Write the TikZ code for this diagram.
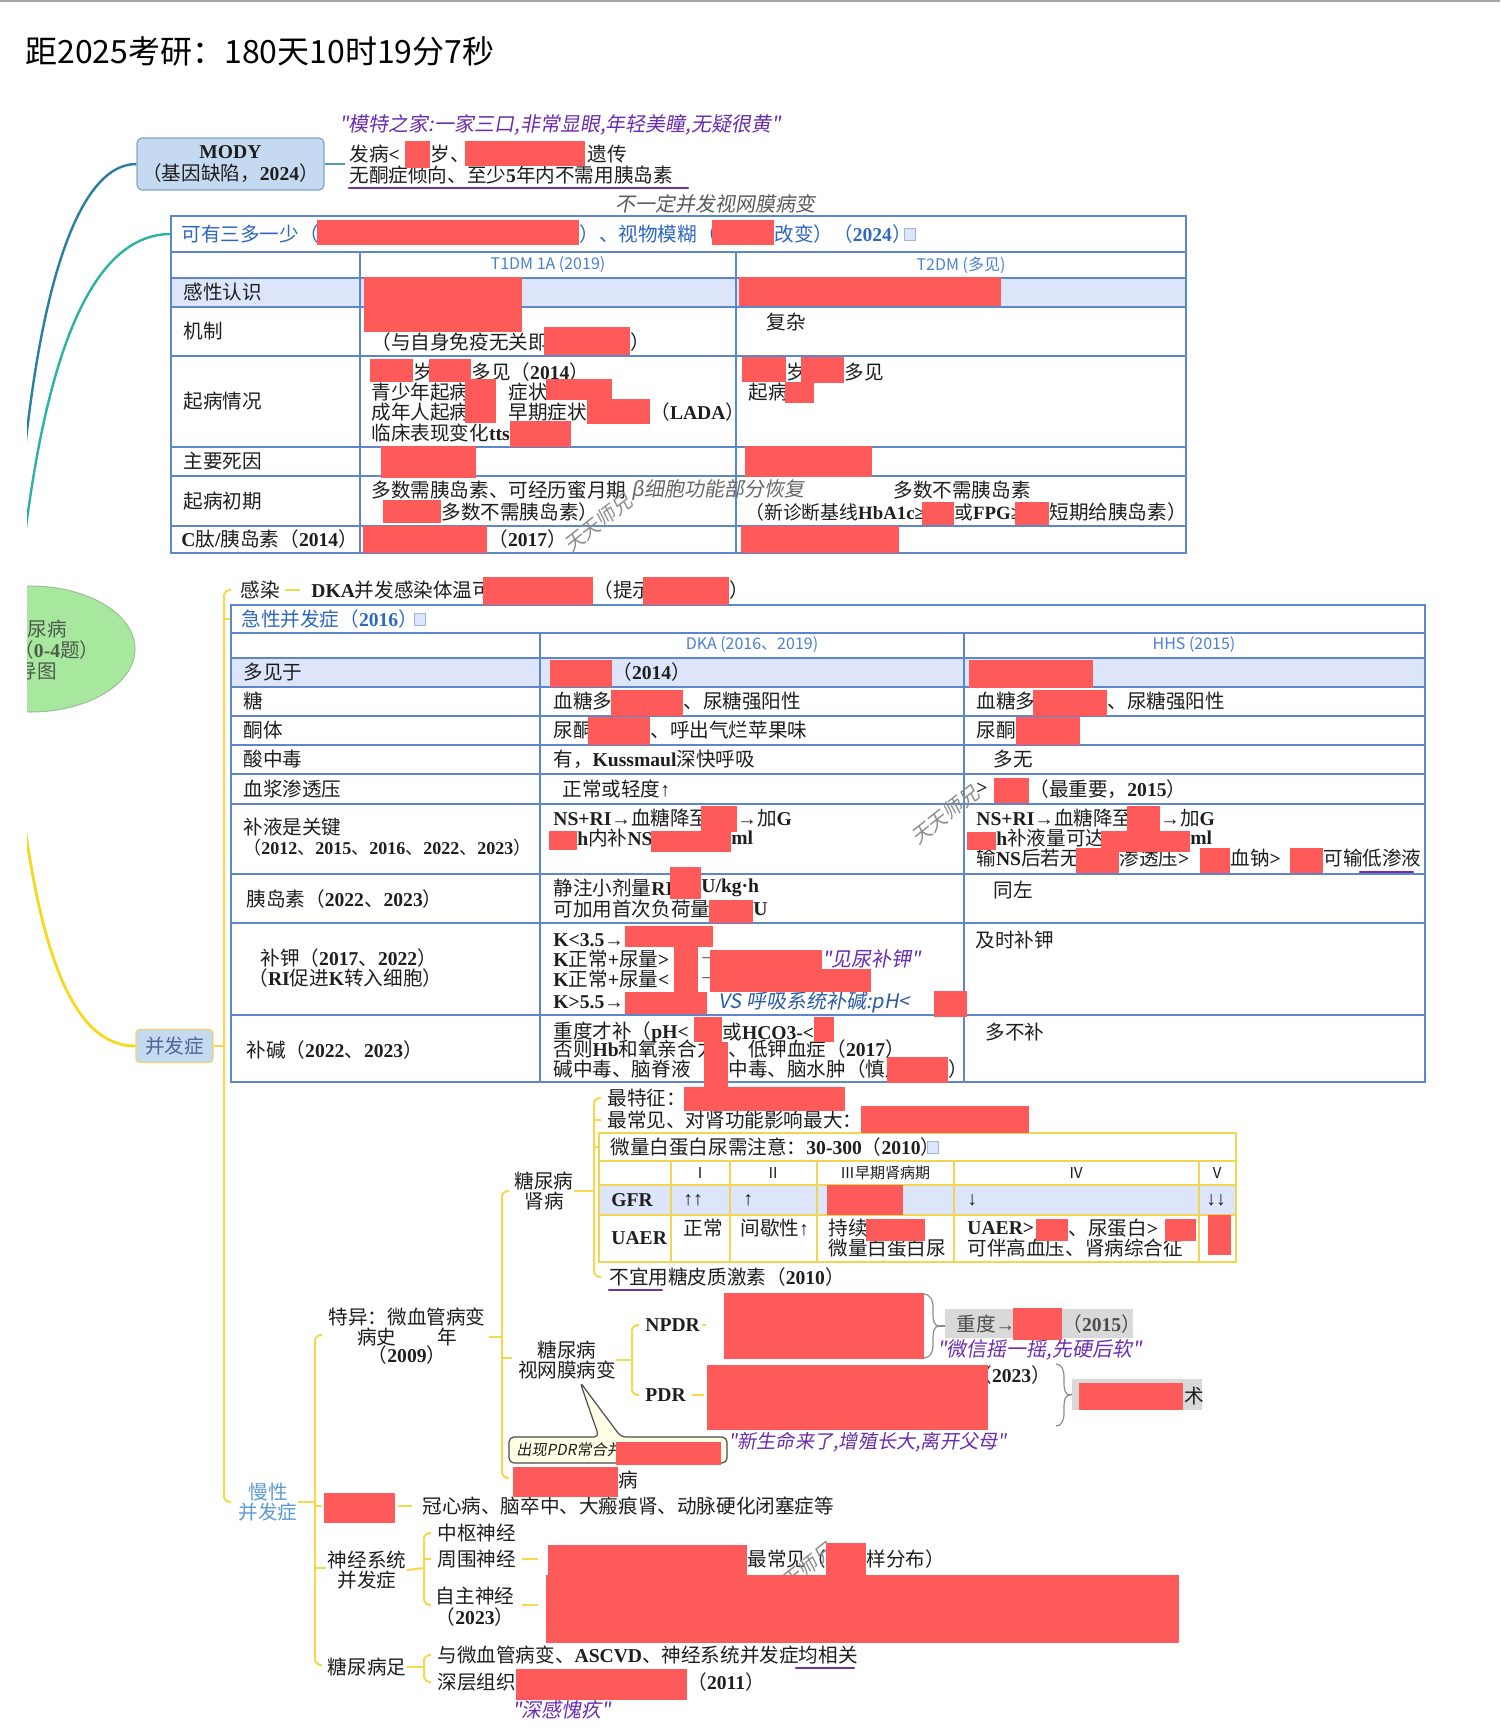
\documentclass[tikz,border=0pt]{standalone}
\usepackage{fontspec}
\usetikzlibrary{shapes.geometric}
\setmainfont{Noto Sans CJK SC}
\newfontfamily\cjkfont{Noto Sans CJK SC}
\newfontfamily\latfont{Liberation Serif Bold}
\newfontfamily\handfont[FakeSlant=0.18]{Noto Sans CJK SC}
\newcommand\cjkcur{\cjkfont}
\newcommand\latcur{\latfont}
\newcommand\sansmode{\let\latcur\cjkfont}
\newcommand\handmode{\handfont\let\latcur\handfont\let\cjkcur\handfont}
\newcommand\body{\fontsize{9.8}{10.4}\selectfont}
\XeTeXinterchartokenstate=1
\newXeTeXintercharclass\cjkclass
\newcount\cjkcnt
\newcommand\setcjkrange[2]{\cjkcnt=#1 \loop\XeTeXcharclass\cjkcnt=\cjkclass \ifnum\cjkcnt<#2 \advance\cjkcnt by 1 \repeat}
\setcjkrange{"2150}{"218F}
\setcjkrange{"2E80}{"9FFF}
\setcjkrange{"FF00}{"FFEF}
\XeTeXinterchartoks 0 \cjkclass = {\cjkcur}
\XeTeXinterchartoks 4095 \cjkclass = {\cjkcur}
\XeTeXinterchartoks \cjkclass 0 = {\latcur}
\XeTeXinterchartoks 4095 0 = {\latcur}
\definecolor{hlred}{HTML}{FF5A5A}
\definecolor{tblblue}{HTML}{5E86CC}
\definecolor{rowfill}{HTML}{DCE5FA}
\definecolor{hdrblue}{HTML}{2E67C2}
\definecolor{colhblue}{HTML}{4A80D4}
\definecolor{modyfill}{HTML}{C5D9F1}
\definecolor{modyline}{HTML}{7FA7D3}
\definecolor{ylw}{HTML}{F5D84E}
\definecolor{ytbl}{HTML}{F2D552}
\definecolor{hwpurple}{HTML}{6A2CB0}
\definecolor{ulpurple}{HTML}{7030A0}
\definecolor{hwblue}{HTML}{2A5BA8}
\definecolor{mapgreen}{HTML}{A8E89E}
\definecolor{mapline}{HTML}{9BBF95}
\definecolor{rootink}{HTML}{4B5B4B}
\definecolor{tealA}{HTML}{2A7FA0}
\definecolor{tealB}{HTML}{2BB3A0}
\definecolor{curveY}{HTML}{F8D81E}
\definecolor{greybox}{HTML}{D9D9D9}
\definecolor{inkc}{HTML}{1E1E1E}
\definecolor{mxblue}{HTML}{5B9BD5}
\definecolor{bfzline}{HTML}{EED56A}
\definecolor{bfzink}{HTML}{4D6694}
\begin{document}
\begin{tikzpicture}[x=0.5pt,y=-0.5pt,
  every node/.style={inner sep=0pt, text=inkc},
  txt/.style={anchor=west, font=\body},
  mid/.style={anchor=center, font=\body, align=center},
  colh/.style={anchor=center, font={\fontsize{8}{9}\selectfont\sansmode}, text=colhblue},
  hw/.style={anchor=west, font={\fontsize{10}{11}\selectfont\handmode}, text=hwpurple},
  wm/.style={font={\fontsize{10}{11}\selectfont\handmode}, text=black!45, rotate=38},
  tline/.style={draw=tblblue, line width=0.6pt},
  yline/.style={draw=ytbl, line width=0.7pt},
  ybr/.style={draw=ylw, line width=1pt, rounded corners=3pt},
  gbr/.style={draw=black!45, line width=0.6pt},
  uline/.style={draw=ulpurple, line width=1.1pt, line cap=round},
  redout/.style={fill=hlred},
  icon/.style={draw=tblblue!60, fill=rowfill, line width=0.4pt}]
\fill[white] (0,0) rectangle (1500,1730);
\useasboundingbox (0,0) rectangle (1500,1730);
\draw[black!35, line width=1pt] (0,1) -- (1500,1);
\node[anchor=west, font={\fontsize{16}{16}\selectfont\sansmode}, text=black] (title) at (25,51) {距2025考研：180天10时19分7秒};

\node[draw=modyline, fill=modyfill, rounded corners=2.5pt, line width=0.6pt, minimum width=93.5pt, minimum height=26pt, align=center, font={\fontsize{9.8}{11}\selectfont}] (mody) at (230.5,164) {MODY\\（基因缺陷，2024）};
\draw[tealA!80, line width=0.8pt] (mody.east) -- ++(20,0);
\node[hw] (modyq) at (339,125) {"模特之家:一家三口,非常显眼,年轻美瞳,无疑很黄"};
\node[txt] (m1) at (349,154) {发病<};
\node[txt] (m2) at (430,154) {岁、};
\node[txt] (m3) at (587,154) {遗传};
\node[txt] (m4) at (349,175) {无酮症倾向、至少5年内不需用胰岛素};
\draw[uline] (349,188) -- (688,188);
\node[hw, text=black!65] (retn) at (615,204) {不一定并发视网膜病变};

\fill[rowfill] (171,278) rectangle (1186,307);
\draw[tline] (171,216) rectangle (1186,553);
\foreach \y in {252,278,307,356,447,476,526} \draw[tline] (171,\y) -- (1186,\y);
\foreach \x in {360,736} \draw[tline] (\x,252) -- (\x,553);
\node[txt, text=hdrblue] (hdrA) at (181,234) {可有三多一少（};
\node[txt, text=hdrblue] (hdrA2) at (579,234) {）、视物模糊（};
\node[txt, text=hdrblue] (hdrA3) at (774,234) {改变）（2024）};
\draw[icon] (904,228) rectangle (915,240);
\node[colh] (t1dm) at (548,265) {T1DM 1A (2019)};
\node[colh] (t2dm) at (961,265) {T2DM (多见)};
\node[txt] (ra1) at (183,292) {感性认识};
\node[txt] (ra2) at (183,331) {机制};
\node[txt] (ra3) at (183,401) {起病情况};
\node[txt] (ra4) at (183,461) {主要死因};
\node[txt] (ra5) at (183,501) {起病初期};
\node[txt] (ra6) at (181,539) {C肽/胰岛素（2014）};
\node[txt] (a21) at (371,342) {（与自身免疫无关即};
\node[txt] (a22) at (630,342) {）};
\node[txt] (b21) at (766,322) {复杂};
\node[txt] (a31) at (413,372) {岁};
\node[txt] (a32) at (471,372) {多见（2014）};
\node[txt] (a33) at (371,392) {青少年起病};
\node[txt] (a34) at (508,392) {症状};
\node[txt] (a35) at (371,412) {成年人起病};
\node[txt] (a36) at (508,412) {早期症状};
\node[txt] (a37) at (650,412) {（LADA）};
\node[txt] (a38) at (371,433) {临床表现变化tts};
\node[txt] (b31) at (786,372) {岁};
\node[txt] (b32) at (844,372) {多见};
\node[txt] (b33) at (748,392) {起病};
\node[txt] (a51) at (371,490) {多数需胰岛素、可经历蜜月期};
\node[txt] (a52) at (371,512) {（};
\node[txt] (a53) at (441,512) {多数不需胰岛素）};
\node[hw, text=black!60] (beta) at (631,490) {β细胞功能部分恢复};
\node[txt] (b51) at (893,490) {多数不需胰岛素};
\node[txt, font={\fontsize{9.4}{10}\selectfont}] (b52) at (745,512) {（新诊断基线HbA1c≥};
\node[txt, font={\fontsize{9.4}{10}\selectfont}] (b53) at (954,512) {或FPG≥};
\node[txt] (b54) at (1049,512) {短期给胰岛素）};
\node[txt] (a61) at (488,539) {（2017）};
\node[wm] (wm1) at (598,523) {天天师兄};

\node[draw=bfzline, fill=modyfill, rounded corners=2pt, line width=0.6pt, minimum width=38.5pt, minimum height=16.5pt, font=\body, text=bfzink] (bfz) at (174.5,1046) {并发症};
\draw[ybr] (bfz.east) -- (224,1046);
\draw[ybr] (231,590) -- (224,590) -- (224,1502) -- (231,1502);
\draw[ybr] (224,619) -- (231,619);
\node[txt] (gr) at (240,590) {感染};
\node[txt] (dki) at (311,590) {DKA并发感染体温可};
\draw[ybr] ([xshift=2.5pt]gr.east) -- ([xshift=-5.5pt]dki.west);
\node[txt] (dki2) at (593,590) {（提示};
\node[txt] (dki3) at (729,590) {）};

\fill[rowfill] (231,658) rectangle (1425,687);
\draw[tline] (231,605) rectangle (1425,1082);
\foreach \y in {633,658,687,716,745,774,804,874,923,1015} \draw[tline] (231,\y) -- (1425,\y);
\foreach \x in {540,964} \draw[tline] (\x,633) -- (\x,1082);
\node[txt, text=hdrblue] (hdrB) at (241,619) {急性并发症（2016）};
\draw[icon] (414,613) rectangle (425,625);
\node[colh] (dka) at (752,645) {DKA (2016、2019)};
\node[colh] (hhs) at (1194,645) {HHS (2015)};
\node[txt] (c1) at (243,672) {多见于};
\node[txt] (c2) at (243,701) {糖};
\node[txt] (c3) at (243,730) {酮体};
\node[txt] (c4) at (243,759) {酸中毒};
\node[txt] (c5) at (243,789) {血浆渗透压};
\node[txt] (c6) at (243,827) {补液是关键};
\node[txt, font={\fontsize{9}{10}\selectfont}] (c6b) at (243,848) {（2012、2015、2016、2022、2023）};
\node[txt] (c7) at (246,899) {胰岛素（2022、2023）};
\node[txt] (c8) at (260,958) {补钾（2017、2022）};
\node[txt] (c8b) at (248,978) {（RI促进K转入细胞）};
\node[txt] (c9) at (246,1050) {补碱（2022、2023）};
\node[txt] (d1) at (612,672) {（2014）};
\node[txt] (d2) at (553,701) {血糖多};
\node[txt] (d2b) at (683,701) {、尿糖强阳性};
\node[txt] (e2) at (976,701) {血糖多};
\node[txt] (e2b) at (1107,701) {、尿糖强阳性};
\node[txt] (d3) at (553,730) {尿酮};
\node[txt] (d3b) at (650,730) {、呼出气烂苹果味};
\node[txt] (e3) at (976,730) {尿酮};
\node[txt] (d4) at (553,759) {有，Kussmaul深快呼吸};
\node[txt] (e4) at (993,759) {多无};
\node[txt] (d5) at (562,789) {正常或轻度↑};
\node[txt] (e5) at (976,789) {>};
\node[txt] (e5b) at (1029,789) {（最重要，2015）};
\node[txt] (d6) at (553,818) {NS+RI→血糖降至};
\node[txt] (d6b) at (737,818) {→加G};
\node[txt] (d6c) at (577,838) {h内补NS};
\node[txt] (d6d) at (731,838) {ml};
\node[txt] (e6) at (976,818) {NS+RI→血糖降至};
\node[txt] (e6b) at (1160,818) {→加G};
\node[txt] (e6c) at (996,838) {h补液量可达};
\node[txt] (e6d) at (1190,838) {ml};
\node[txt] (e6e) at (976,858) {输NS后若无};
\node[txt] (e6f) at (1119,858) {渗透压>};
\node[txt] (e6g) at (1230,858) {血钠>};
\node[txt] (e6h) at (1323,858) {可输低渗液};
\draw[uline] (1360,872) -- (1413,872);
\node[wm] (wm2) at (945,815) {天天师兄};
\node[txt] (d7) at (553,888) {静注小剂量RI};
\node[txt] (d7b) at (701,888) {U/kg·h};
\node[txt] (d7c) at (553,909) {可加用首次负荷量};
\node[txt] (d7d) at (753,909) {U};
\node[txt] (e7) at (993,890) {同左};
\node[txt] (d8) at (553,940) {K<3.5→};
\node[txt] (d8b) at (553,959) {K正常+尿量>};
\node[txt] (d8c) at (698,959) {→};
\node[hw] (d8q) at (822,959) {"见尿补钾"};
\node[txt] (d8d) at (553,979) {K正常+尿量<};
\node[txt] (d8e) at (698,979) {→};
\node[txt] (d8f) at (553,1002) {K>5.5→};
\node[hw, text=hwblue] (d8v) at (718,1002) {VS 呼吸系统补碱:pH<};
\node[txt] (e8) at (975,940) {及时补钾};
\node[txt] (d9) at (553,1032) {重度才补（pH<};
\node[txt] (d9b) at (722,1032) {或HCO3-<};
\node[txt] (d9c) at (553,1049) {否则Hb和氧亲合力};
\node[txt] (d9d) at (728,1049) {、低钾血症（2017）};
\node[txt] (d9e) at (553,1069) {碱中毒、脑脊液};
\node[txt] (d9f) at (728,1069) {中毒、脑水肿（慎用};
\node[txt] (d9g) at (948,1069) {）};
\node[txt] (e9) at (985,1032) {多不补};

\node[mid, text=mxblue] (mx) at (268,1502) {慢性\\并发症};
\draw[ybr] (mx.east) -- (315,1502);
\draw[ybr] (322,1335) -- (315,1335) -- (315,1665) -- (322,1665);
\draw[ybr] (315,1506) -- (322,1506);
\draw[ybr] (315,1568) -- (326,1568);
\node[mid] (ty1) at (407,1317) {特异：微血管病变};
\node[mid] (ty2) at (407,1337) {病史\hspace{20.5pt}年};
\node[mid] (ty3) at (407,1355) {（2009）};
\draw[ybr] (489,1337) -- (502,1337);
\draw[ybr] (509,1191) -- (502,1191) -- (502,1478) -- (509,1478);
\draw[ybr] (502,1358) -- (512,1358);
\node[mid] (sb) at (544,1191) {糖尿病\\肾病};
\draw[ybr] (sb.east) -- (594,1191);
\draw[ybr] (601,1098) -- (594,1098) -- (594,1277) -- (601,1277);
\draw[ybr] (594,1120) -- (601,1120);
\draw[ybr] (594,1147) -- (599,1147);
\node[txt] (k1) at (607,1098) {最特征：};
\node[txt] (k2) at (607,1120) {最常见、对肾功能影响最大：};
\fill[rowfill] (599,1185) rectangle (1236,1215);
\draw[yline] (599,1133) rectangle (1236,1262);
\foreach \y in {1161,1185,1215} \draw[yline] (599,\y) -- (1236,\y);
\foreach \x in {671,730,817,954,1199} \draw[yline] (\x,1161) -- (\x,1262);
\node[txt] (k3) at (610,1147) {微量白蛋白尿需注意：30-300（2010）};
\draw[icon] (927,1141) rectangle (938,1153);
\foreach \n/\x/\s in {s1/700/Ⅰ,s2/773/Ⅱ,s3/885/Ⅲ早期肾病期,s4/1076/Ⅳ,s5/1217/Ⅴ}
  \node[anchor=center, font={\fontsize{7.5}{8}\selectfont}] (\n) at (\x,1173) {\s};
\node[txt] (gfr) at (611,1200) {GFR};
\node[txt] (g1) at (683,1200) {↑↑};
\node[txt] (g2) at (743,1200) {↑};
\node[txt] (g4) at (967,1200) {↓};
\node[txt] (g5) at (1206,1200) {↓↓};
\node[txt] (uaer) at (611,1238) {UAER};
\node[txt] (u1) at (683,1228) {正常};
\node[txt] (u2) at (740,1228) {间歇性↑};
\node[txt] (u3) at (828,1228) {持续};
\node[txt] (u3b) at (828,1248) {微量白蛋白尿};
\node[txt] (u4) at (967,1228) {UAER>};
\node[txt] (u4b) at (1068,1228) {、尿蛋白>};
\node[txt] (u4c) at (967,1248) {可伴高血压、肾病综合征};
\node[txt] (k4) at (609,1277) {不宜用糖皮质激素（2010）};
\draw[uline] (609,1290) -- (662,1290);

\node[mid] (sw) at (567,1360) {糖尿病\\视网膜病变};
\draw[ybr] (sw.east) -- (632,1360);
\draw[ybr] (639,1325) -- (632,1325) -- (632,1395) -- (639,1395);
\node[txt] (npdr) at (645,1325) {NPDR};
\node[txt] (pdr) at (645,1395) {PDR};
\draw[ybr] ([xshift=3pt]npdr.east) -- (702,1325);
\draw[ybr] ([xshift=3pt]pdr.east) -- (704,1395);
\node[txt] (pdry) at (972,1375) {（2023）};
\draw[gbr] (924,1294) to[out=0,in=90] (933,1306) -- (933,1314) to[out=-90,in=180] (939,1326) to[out=180,in=90] (933,1338) -- (933,1346) to[out=-90,in=0] (924,1358);
\draw[gbr] (1056,1364) to[out=0,in=90] (1064,1376) -- (1064,1384) to[out=-90,in=180] (1070,1395) to[out=180,in=90] (1064,1406) -- (1064,1414) to[out=-90,in=0] (1056,1426);
\node[fill=greybox, minimum width=94pt, minimum height=14.5pt, anchor=west] (sev) at (945,1323.5) {};
\draw[gbr] (939,1326) -- (sev.west |- 939,1326);
\node[txt, text=black!70] (sev1) at (956,1324) {重度→};
\node[txt, text=black!70] (sev2) at (1062,1324) {（2015）};
\node[fill=greybox, minimum width=65pt, minimum height=15.5pt, anchor=west] (op) at (1072,1394) {};
\draw[gbr] (1070,1395) -- (op.west);
\node[txt] (op1) at (1184,1396) {术};
\node[hw] (shake) at (937,1350) {"微信摇一摇,先硬后软"};
\node[hw, font={\fontsize{9.6}{10}\selectfont\handmode}] (life) at (728,1442) {"新生命来了,增殖长大,离开父母"};
\filldraw[fill=yellow!10, draw=black!70, line width=0.6pt, rounded corners=2.5pt] (509,1437) -- (599,1437) -- (580,1382) -- (621,1437) -- (727,1437) -- (727,1463) -- (509,1463) -- cycle;
\node[anchor=west, font={\fontsize{7.6}{8}\selectfont\handmode}] (cl) at (516,1450) {出现PDR常合并};
\node[txt] (mac) at (618,1480) {病};

\node[txt] (big) at (422,1506) {冠心病、脑卒中、大瘢痕肾、动脉硬化闭塞症等};
\draw[ybr] (398,1506) -- (412,1506);
\node[mid] (nv) at (367,1570) {神经系统\\并发症};
\draw[ybr] (nv.east) -- (424,1568);
\draw[ybr] (431,1533) -- (424,1533) -- (424,1605) -- (431,1605);
\draw[ybr] (424,1559) -- (431,1559);
\node[txt] (n1) at (437,1533) {中枢神经};
\node[txt] (n2) at (437,1559) {周围神经};
\node[mid] (n3) at (475,1607) {自主神经\\（2023）};
\draw[ybr] (522,1559) -- (538,1559);
\draw[ybr] (522,1605) -- (538,1605);
\node[txt] (n2a) at (747,1559) {最常见（};
\node[txt] (n2b) at (866,1559) {样分布）};
\node[wm] (wm3) at (800,1572) {天天师兄};
\node[mid] (tf) at (367,1667) {糖尿病足};
\draw[ybr] (tf.east) -- (424,1667);
\draw[ybr] (431,1655) -- (424,1655) -- (424,1682) -- (431,1682);
\node[txt] (f1) at (437,1655) {与微血管病变、ASCVD、神经系统并发症均相关};
\draw[uline] (796,1668) -- (854,1668);
\node[txt] (f2) at (437,1682) {深层组织};
\node[txt] (f3) at (687,1682) {（2011）};
\node[hw] (guilt) at (512,1710) {"深感愧疚"};

\foreach \a/\b/\c/\d in {405/141/430/168, 465/141/585/166,
  317/220/579/245, 712/220/774/245, 364/277/522/332, 739/277/1001/306,
  544/327/630/355, 370/359/413/382, 429/359/471/382, 465/379/496/423,
  546/379/612/400, 587/399/650/424, 510/421/571/447, 742/357/786/382,
  801/357/844/383, 785/382/814/403, 381/446/476/478, 745/446/872/477,
  383/500/441/523, 922/502/954/525, 1015/502/1049/525, 363/526/487/553,
  741/526/899/553, 483/577/593/605, 643/577/729/605,
  550/660/612/687, 969/660/1093/688, 611/690/683/716, 1033/690/1107/716,
  588/717/650/745, 1016/717/1080/745, 994/778/1029/803,
  701/806/737/832, 549/831/577/850, 651/831/731/852,
  1127/806/1160/832, 967/832/996/850, 1101/831/1190/852,
  1076/848/1119/873, 1200/848/1230/873, 1290/848/1323/873,
  670/867/701/899, 709/900/753/923,
  625/926/713/947, 674/947/698/993, 710/950/822/970, 710/969/871/992,
  625/992/707/1014, 934/991/967/1017,
  694/1017/722/1042, 814/1017/834/1042, 704/1042/728/1092, 887/1057/948/1083,
  684/1087/845/1111, 861/1106/1029/1133,
  827/1185/903/1215, 866/1219/925/1241, 1036/1219/1068/1241, 1165/1219/1196/1241,
  1208/1215/1231/1255,
  724/1293/924/1359, 707/1365/988/1430, 1013/1308/1062/1340, 1079/1383/1183/1410,
  616/1442/721/1465, 513/1467/618/1497,
  324/1493/395/1523, 548/1545/747/1575, 826/1543/866/1575, 546/1575/1179/1643,
  516/1669/687/1700}
  \fill[redout] (\a,\b) rectangle (\c,\d);

\begin{scope}
\clip (27,0) rectangle (1500,1730);
\node[ellipse, draw=mapline, fill=mapgreen, line width=0.5pt, minimum width=105pt, minimum height=63pt] (root) at (30,649) {};
\node[txt, text=rootink] (rt1) at (8,629) {糖尿病};
\node[txt, text=rootink] (rt2) at (14,650) {（0-4题）};
\node[txt, text=rootink] (rt3) at (-22,671) {思维导图};
\coordinate (mend) at (22,480);
\coordinate (gend) at (20,580);
\coordinate (yend) at (18,770);
\draw[tealA, line width=1.2pt] (mody.west) .. controls (75,164) and (38,300) .. (mend);
\draw[tealB, line width=1.2pt] ([xshift=-5pt]hdrA.west) .. controls (100,234) and (45,330) .. (gend);
\draw[curveY, line width=1.4pt] (bfz.west) .. controls (75,1046) and (38,960) .. (yend);
\end{scope}
\end{tikzpicture}
\end{document}
